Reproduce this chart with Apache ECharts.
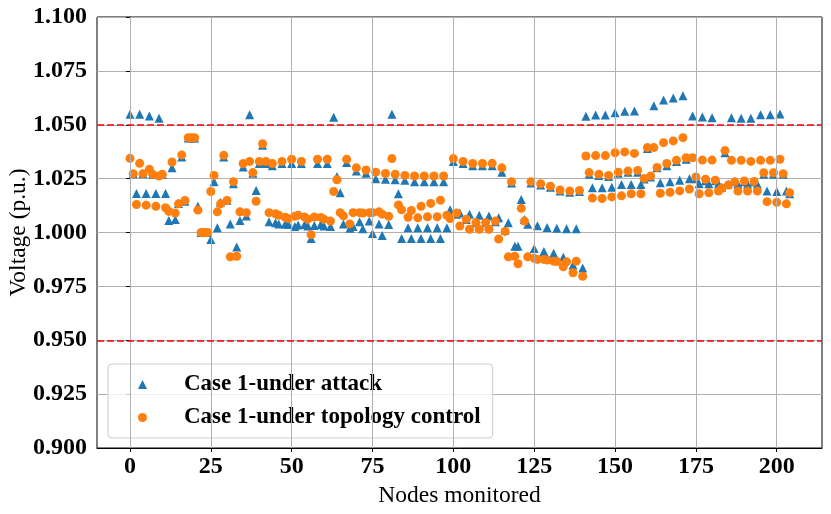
<!DOCTYPE html>
<html>
<head>
<meta charset="utf-8">
<script src="https://cdn.jsdelivr.net/npm/echarts@6/dist/echarts.min.js"></script>
<style>
  html, body { margin: 0; padding: 0; background: #fff; }
  #chart { width: 831px; height: 514px; }
</style>
</head>
<body>
<div id="chart"></div>
<script>
// voltage per monitored node, node index = position in the array
const attackV = [
  1.0549, 1.0273, 1.0181, 1.0549, 1.0273, 1.0181, 1.0541, 1.0270, 1.0181, 1.0530,
  1.0270, 1.0181, 1.0056, 1.0300, 1.0060, 1.0135, 1.0350, 1.0145, 1.0438, 1.0438,
  1.0438, 1.0122, 1.0000, 1.0000, 1.0000, 0.9967, 1.0236, 1.0022, 1.0140, 1.0350,
  1.0150, 1.0040, 1.0226, 0.9933, 1.0056, 1.0304, 1.0077, 1.0546, 1.0275, 1.0195,
  1.0320, 1.0405, 1.0320, 1.0050, 1.0310, 1.0045, 1.0040, 1.0320, 1.0040, 1.0037,
  1.0320, 1.0028, 1.0035, 1.0320, 1.0037, 1.0030, 0.9972, 1.0033, 1.0320, 1.0037,
  1.0030, 1.0320, 1.0028, 1.0535, 1.0260, 1.0185, 1.0040, 1.0325, 1.0020, 1.0028,
  1.0285, 1.0050, 1.0017, 1.0275, 1.0053, 0.9995, 1.0250, 1.0040, 0.9986, 1.0247,
  1.0037, 1.0549, 1.0245, 1.0180, 0.9972, 1.0242, 1.0022, 0.9972, 1.0236, 1.0022,
  0.9972, 1.0236, 1.0022, 0.9972, 1.0236, 1.0022, 0.9972, 1.0236, 1.0022, 1.0106,
  1.0330, 1.0085, 1.0090, 1.0320, 1.0060, 1.0085, 1.0310, 1.0045, 1.0080, 1.0310,
  1.0045, 1.0077, 1.0310, 1.0050, 1.0068, 1.0280, 1.0010, 1.0045, 1.0230, 0.9936,
  0.9936, 1.0153, 1.0060, 1.0038, 1.0230, 0.9926, 1.0031, 1.0220, 0.9912, 1.0023,
  1.0210, 0.9904, 1.0020, 1.0192, 0.9885, 1.0017, 1.0187, 0.9849, 1.0017, 1.0190,
  0.9835, 1.0540, 1.0270, 1.0208, 1.0545, 1.0265, 1.0208, 1.0545, 1.0260, 1.0210,
  1.0556, 1.0275, 1.0223, 1.0563, 1.0280, 1.0223, 1.0564, 1.0280, 1.0223, 1.0248,
  1.0390, 1.0258, 1.0588, 1.0300, 1.0231, 1.0615, 1.0310, 1.0236, 1.0624, 1.0330,
  1.0242, 1.0635, 1.0340, 1.0250, 1.0541, 1.0250, 1.0226, 1.0536, 1.0240, 1.0226,
  1.0533, 1.0240, 1.0226, 1.0210, 1.0370, 1.0225, 1.0533, 1.0235, 1.0225, 1.0530,
  1.0235, 1.0225, 1.0530, 1.0235, 1.0225, 1.0546, 1.0270, 1.0193, 1.0546, 1.0270,
  1.0190, 1.0550, 1.0270, 1.0193, 1.0180
];

const controlV = [
  1.0344, 1.0273, 1.0130, 1.0321, 1.0273, 1.0127, 1.0293, 1.0270, 1.0122, 1.0262,
  1.0270, 1.0115, 1.0098, 1.0327, 1.0090, 1.0133, 1.0360, 1.0149, 1.0440, 1.0440,
  1.0440, 1.0104, 1.0000, 1.0000, 1.0000, 1.0190, 1.0265, 1.0096, 1.0133, 1.0358,
  1.0149, 0.9887, 1.0236, 0.9890, 1.0096, 1.0320, 1.0092, 1.0330, 1.0278, 1.0145,
  1.0330, 1.0412, 1.0330, 1.0092, 1.0320, 1.0087, 1.0080, 1.0330, 1.0071, 1.0065,
  1.0340, 1.0075, 1.0080, 1.0330, 1.0072, 1.0062, 0.9990, 1.0072, 1.0340, 1.0070,
  1.0062, 1.0340, 1.0053, 1.0190, 1.0245, 1.0092, 1.0077, 1.0340, 1.0040, 1.0092,
  1.0300, 1.0092, 1.0090, 1.0290, 1.0092, 1.0092, 1.0280, 1.0096, 1.0085, 1.0274,
  1.0075, 1.0343, 1.0270, 1.0128, 1.0105, 1.0265, 1.0071, 1.0102, 1.0262, 1.0068,
  1.0122, 1.0262, 1.0073, 1.0135, 1.0262, 1.0073, 1.0150, 1.0262, 1.0080, 1.0065,
  1.0343, 1.0090, 1.0030, 1.0330, 1.0062, 1.0015, 1.0320, 1.0046, 1.0015, 1.0320,
  1.0046, 1.0015, 1.0321, 1.0053, 0.9970, 1.0300, 1.0005, 0.9887, 1.0236, 0.9890,
  0.9855, 1.0112, 1.0053, 0.9887, 1.0236, 0.9880, 0.9875, 1.0226, 0.9875, 0.9872,
  1.0215, 0.9867, 0.9865, 1.0197, 0.9841, 0.9864, 1.0192, 0.9813, 0.9867, 1.0195,
  0.9797, 1.0355, 1.0278, 1.0160, 1.0357, 1.0270, 1.0158, 1.0357, 1.0265, 1.0165,
  1.0370, 1.0280, 1.0170, 1.0374, 1.0285, 1.0180, 1.0367, 1.0288, 1.0180, 1.0251,
  1.0394, 1.0262, 1.0394, 1.0302, 1.0182, 1.0417, 1.0320, 1.0187, 1.0425, 1.0335,
  1.0193, 1.0440, 1.0347, 1.0202, 1.0347, 1.0258, 1.0180, 1.0336, 1.0247, 1.0184,
  1.0336, 1.0243, 1.0192, 1.0205, 1.0380, 1.0220, 1.0335, 1.0235, 1.0192, 1.0335,
  1.0239, 1.0192, 1.0330, 1.0237, 1.0192, 1.0335, 1.0277, 1.0143, 1.0335, 1.0277,
  1.0140, 1.0340, 1.0273, 1.0133, 1.0185
];

const xTicks = [0, 25, 50, 75, 100, 125, 150, 175, 200];
const limitLines = [1.05, 0.95];

const serif = '"Liberation Serif", "DejaVu Serif", serif';

const chart = echarts.init(document.getElementById('chart'));

const option = {
  animation: false,
  grid: {
    left: 97, right: 9, top: 17, bottom: 66,
    outerBoundsMode: 'none',
    show: true, borderColor: '#000', borderWidth: 1
  },
  legend: {
    orient: 'vertical',
    left: 108,
    top: 364,
    padding: [9, 12, 9, 30],
    itemWidth: 9,
    itemHeight: 9,
    itemGap: 10,
    backgroundColor: 'rgba(255,255,255,0.8)',
    borderColor: '#cccccc',
    borderWidth: 1,
    borderRadius: 4,
    textStyle: {
      fontFamily: serif, fontWeight: 'bold', fontSize: 23, color: '#000',
      padding: [0, 0, 0, 32]
    },
    data: [
      { name: 'Case 1-under attack', icon: 'triangle' },
      { name: 'Case 1-under topology control', icon: 'circle' }
    ]
  },
  xAxis: {
    type: 'value',
    min: -10.2,
    max: 214,
    name: 'Nodes monitored',
    nameLocation: 'middle',
    nameGap: 32,
    nameTextStyle: { fontFamily: serif, fontSize: 23.5, color: '#000' },
    axisLine: { lineStyle: { color: '#000', width: 1 } },
    axisTick: { show: true, length: 4, customValues: xTicks, lineStyle: { color: '#000' } },
    axisLabel: { customValues: xTicks, fontFamily: serif, fontWeight: 'bold', fontSize: 24, color: '#000', margin: 7 },
    splitLine: { show: false }
  },
  yAxis: {
    type: 'value',
    min: 0.9,
    max: 1.1,
    interval: 0.025,
    name: 'Voltage (p.u.)',
    nameLocation: 'middle',
    nameGap: 66,
    nameMoveOverlap: false,
    nameTextStyle: { fontFamily: serif, fontSize: 23.5, color: '#000' },
    axisLine: { show: true, lineStyle: { color: '#000', width: 1 } },
    axisTick: { show: true, length: 4, lineStyle: { color: '#000' } },
    axisLabel: {
      fontFamily: serif, fontWeight: 'bold', fontSize: 24, color: '#000', margin: 10,
      formatter: v => v.toFixed(3)
    },
    splitLine: { show: true, lineStyle: { color: '#b0b0b0', width: 1 } }
  },
  series: [
    {
      name: 'Case 1-under attack',
      type: 'scatter',
      symbol: 'triangle',
      symbolSize: 9,
      itemStyle: { color: '#1f77b4', opacity: 1 },
      data: attackV.map((v, i) => [i, v]),
      z: 3,
      markLine: {
        silent: true,
        symbol: 'none',
        label: { show: false },
        lineStyle: { color: '#b0b0b0', width: 1, type: 'solid' },
        data: xTicks.map(t => ({ xAxis: t }))
      }
    },
    {
      name: 'Case 1-under topology control',
      type: 'scatter',
      symbol: 'circle',
      symbolSize: 9,
      itemStyle: { color: '#ff7f0e', opacity: 1 },
      data: controlV.map((v, i) => [i, v]),
      z: 4,
      markLine: {
        silent: true,
        symbol: 'none',
        label: { show: false },
        lineStyle: { color: '#ff0000', width: 1.6, type: [7, 3] },
        data: limitLines.map(y => ({ yAxis: y }))
      }
    }
  ]
};

chart.setOption(option);
</script>
</body>
</html>
